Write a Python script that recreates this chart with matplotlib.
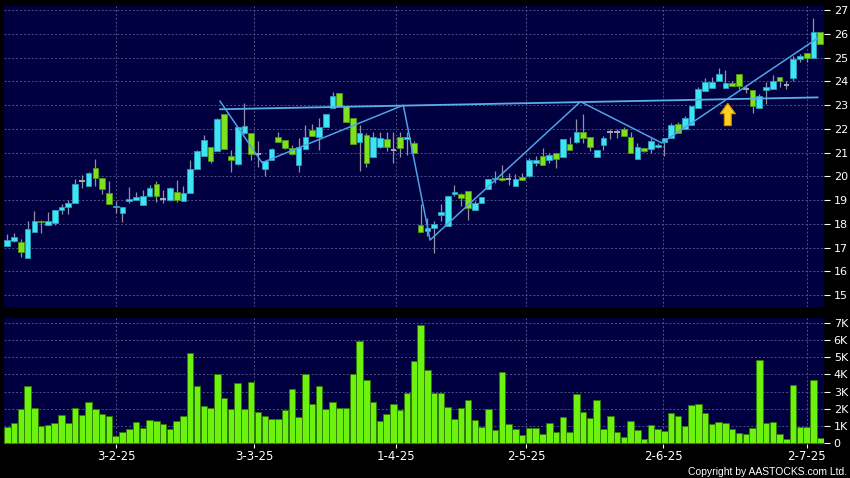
import matplotlib
matplotlib.use("Agg")
import matplotlib.pyplot as plt
import numpy as np

# ---------------- data ----------------
opens = [17.08, 17.30, 17.25, 16.55, 17.64, 18.14, 17.97, 18.05, 18.59, 18.70,
         18.87, 19.80, 19.58, 20.34, 19.92, 19.29, 18.72, 18.47, 18.95, 18.99,
         18.79, 19.17, 19.69, 19.04, 19.00, 19.35, 18.96, 19.31, 20.33, 20.87,
         21.22, 21.09, 22.62, 20.85, 20.54, 21.83, 21.81, 20.95, 20.33, 20.68,
         21.68, 21.54, 21.19, 20.48, 21.16, 21.96, 21.68, 22.10, 22.90, 23.50,
         22.98, 22.48, 21.44, 21.75, 20.83, 21.23, 21.58, 21.12, 21.68, 21.58,
         21.41, 17.97, 17.69, 17.83, 18.37, 17.93, 19.26, 19.28, 19.38, 18.58,
         18.89, 19.45, 19.88, 19.94, 19.90, 19.59, 19.98, 20.01, 20.57, 20.85,
         20.68, 20.99, 20.82, 21.36, 21.43, 21.89, 21.65, 20.82, 21.31, 21.89,
         21.89, 21.99, 21.65, 20.74, 21.19, 21.15, 21.26, 21.43, 21.61, 22.22,
         22.00, 22.17, 22.90, 23.62, 23.73, 24.04, 23.73, 23.93, 24.32, 23.70,
         23.65, 22.90, 23.66, 23.69, 24.21, 23.87, 24.15, 24.95, 25.19, 24.99,
         26.07]
highs = [17.56, 17.60, 17.35, 18.12, 18.54, 18.16, 18.49, 18.57, 18.82, 19.01,
         19.88, 20.06, 20.19, 20.73, 19.92, 19.81, 18.96, 18.73, 19.54, 19.33,
         19.42, 19.65, 19.81, 19.43, 19.55, 19.84, 19.59, 20.71, 21.10, 21.74,
         21.22, 22.45, 22.62, 21.10, 22.10, 23.10, 21.81, 21.50, 20.66, 21.19,
         21.89, 21.55, 21.33, 21.61, 22.17, 22.20, 22.45, 22.62, 23.57, 23.50,
         22.98, 22.48, 22.17, 21.82, 21.89, 21.86, 21.86, 21.89, 21.89, 21.88,
         21.48, 18.86, 18.26, 18.11, 18.86, 19.17, 19.66, 19.29, 19.38, 18.96,
         19.14, 19.90, 20.22, 20.50, 20.15, 20.12, 20.15, 20.78, 20.85, 21.20,
         20.99, 21.00, 21.58, 21.68, 22.42, 22.63, 21.65, 21.10, 21.71, 21.99,
         21.99, 22.10, 21.89, 21.40, 21.19, 21.61, 21.40, 21.61, 22.26, 22.30,
         22.55, 22.97, 23.75, 24.14, 24.18, 24.57, 24.50, 24.00, 24.32, 23.85,
         23.65, 23.48, 23.97, 24.28, 24.21, 24.04, 25.09, 25.16, 25.19, 26.66,
         26.07]
lows = [17.08, 17.24, 16.62, 16.55, 17.64, 17.60, 17.97, 17.97, 18.42, 18.40,
        18.87, 19.50, 19.58, 19.60, 19.24, 18.84, 18.46, 18.09, 18.87, 18.99,
        18.79, 19.15, 18.93, 18.87, 18.98, 18.93, 18.95, 19.31, 20.30, 20.85,
        20.57, 21.08, 21.15, 20.19, 20.50, 21.80, 20.68, 20.40, 20.01, 20.68,
        21.45, 21.16, 20.92, 20.17, 21.15, 21.70, 21.12, 22.10, 22.90, 22.98,
        22.28, 21.35, 20.23, 20.41, 20.80, 21.20, 21.07, 20.55, 20.83, 20.90,
        20.98, 17.66, 17.48, 16.78, 18.11, 17.93, 19.17, 18.75, 18.16, 18.58,
        18.89, 19.45, 19.73, 19.82, 19.66, 19.59, 19.86, 19.98, 20.43, 20.50,
        20.57, 20.36, 20.82, 21.10, 21.42, 21.40, 21.06, 20.82, 21.10, 21.57,
        21.60, 21.71, 20.99, 20.74, 21.01, 20.99, 21.19, 20.85, 21.60, 21.83,
        22.00, 22.17, 22.90, 23.62, 23.73, 24.00, 23.73, 23.79, 23.69, 23.50,
        22.68, 22.90, 23.06, 23.69, 23.76, 23.69, 24.04, 24.81, 24.84, 24.99,
        25.58]
closes = [17.32, 17.43, 16.80, 17.77, 18.11, 18.08, 18.11, 18.57, 18.70, 18.87,
          19.67, 19.80, 20.16, 19.92, 19.47, 18.84, 18.76, 18.73, 19.03, 19.12,
          19.17, 19.53, 19.17, 19.04, 19.53, 19.00, 19.31, 20.33, 21.09, 21.55,
          20.64, 22.44, 21.16, 20.68, 22.09, 22.12, 20.94, 20.95, 20.65, 21.17,
          21.47, 21.19, 20.93, 21.23, 21.68, 21.72, 22.10, 22.62, 23.40, 22.98,
          22.28, 21.35, 21.82, 20.55, 21.68, 21.63, 21.23, 21.12, 21.21, 21.65,
          20.99, 17.67, 17.83, 18.00, 18.51, 19.17, 19.35, 19.10, 18.68, 18.89,
          19.14, 19.90, 19.92, 19.83, 19.90, 19.91, 19.87, 20.71, 20.71, 20.50,
          20.89, 20.74, 21.58, 21.10, 21.86, 21.61, 21.24, 21.10, 21.61, 21.89,
          21.89, 21.71, 20.99, 21.22, 21.06, 21.50, 21.33, 21.61, 22.17, 21.83,
          22.45, 22.97, 23.69, 23.97, 23.97, 24.32, 23.93, 23.79, 23.79, 23.70,
          22.98, 23.38, 23.75, 24.04, 24.00, 23.87, 24.95, 25.06, 24.98, 26.07,
          25.58]
volumes_k = [0.93, 1.18, 1.97, 3.31, 2.05, 1.00, 1.04, 1.16, 1.64, 1.18,
             2.05, 1.62, 2.42, 1.97, 1.70, 1.57, 0.44, 0.66, 0.81, 1.22,
             0.91, 1.33, 1.30, 1.10, 0.85, 1.30, 1.59, 5.24, 3.31, 2.15,
             2.03, 4.04, 2.65, 1.97, 3.50, 1.97, 3.56, 1.82, 1.59, 1.43,
             1.41, 1.95, 3.15, 1.53, 4.02, 2.28, 3.31, 1.99, 2.40, 2.05,
             2.05, 4.00, 5.96, 3.69, 2.40, 1.32, 1.68, 2.26, 1.93, 2.94,
             4.80, 6.87, 4.24, 2.92, 2.92, 2.09, 1.39, 2.05, 2.51, 1.35,
             0.93, 1.99, 0.77, 4.12, 1.12, 0.83, 0.50, 0.89, 0.87, 0.54,
             1.18, 0.64, 1.55, 0.66, 2.88, 1.80, 1.49, 2.50, 0.83, 1.61,
             0.66, 0.37, 1.30, 0.75, 0.23, 1.08, 0.81, 0.70, 1.74, 1.59,
             1.03, 2.24, 2.28, 1.74, 1.10, 1.24, 1.18, 0.85, 0.58, 0.52,
             0.89, 4.82, 1.18, 1.26, 0.56, 0.25, 3.40, 0.93, 0.93, 3.66,
             0.29]

date_labels = ["3-2-25", "3-3-25", "1-4-25", "2-5-25", "2-6-25", "2-7-25"]
date_positions = [16.1, 36.4, 57.4, 76.6, 96.8, 118.0]

price_ticks = list(range(15, 28))
volume_ticks = list(range(0, 8))
volume_labels = ["0"] + [f"{v}K" for v in volume_ticks[1:]]

# trend lines (bar index, price)
resist_x = [31.4, 119.6]
resist_y = [22.83, 23.33]
zigzag_x = [31.4, 37.6, 58.45, 62.4, 84.6, 96.6, 119.6]
zigzag_y = [23.17, 20.58, 23.00, 17.32, 23.15, 21.41, 25.82]
arrow_x = 106.35
arrow_tip = 23.08
arrow_base = 22.14

# ---------------- style ----------------
NAVY = "#000040"
CYAN = "#3DE4F2"
CYAN_EDGE = "#2A9FC0"
GREEN = "#7FE11E"
GREEN_EDGE = "#4E9A12"
WICK = "#9090A0"
GRID = "#50508A"
VOL_FACE = "#6CF20E"
VOL_EDGE = "#2F7A00"
LINE = "#4DA3E6"

o = np.array(opens); h = np.array(highs); l = np.array(lows); c = np.array(closes)
v = np.array(volumes_k)
x = np.arange(len(o))

fig = plt.figure(figsize=(8.5, 4.78), dpi=100, facecolor="black")
W, H = 850.0, 478.0
ax = fig.add_axes([4 / W, 1 - 307 / H, 820 / W, 301 / H])
axv = fig.add_axes([4 / W, 1 - 444 / H, 820 / W, 126 / H])

for a in (ax, axv):
    a.set_facecolor(NAVY)
    for s in a.spines.values():
        s.set_visible(False)
    a.set_axisbelow(True)
    a.grid(True, color=GRID, linestyle=(0, (2, 2)), linewidth=0.7)
    a.set_xlim(-0.49, 120.55)
    a.set_xticks(date_positions)
    a.yaxis.tick_right()
    a.tick_params(axis="y", colors="white", labelcolor="white", labelsize=8,
                  length=4, width=0.8, pad=3, direction="out")

# candles
ax.vlines(x, l, h, color=WICK, linewidth=0.9, zorder=2)
up = c > o
dn = c < o
fl = c == o
bw = 0.84
ax.bar(x[up], np.maximum(c[up] - o[up], 0.04), bottom=o[up], width=bw,
       color=CYAN, edgecolor=CYAN_EDGE, linewidth=0.6, zorder=3)
ax.bar(x[dn], np.maximum(o[dn] - c[dn], 0.04), bottom=c[dn], width=bw,
       color=GREEN, edgecolor=GREEN_EDGE, linewidth=0.6, zorder=3)
ax.hlines(c[fl], x[fl] - bw / 2, x[fl] + bw / 2, color="#A8A8B4", linewidth=1.4, zorder=3)

# trend lines
ax.plot(resist_x, resist_y, color="#5AAFE8", linewidth=1.3, zorder=4)
ax.plot(zigzag_x, zigzag_y, color=LINE, linewidth=1.1, zorder=4)

# arrow
ax.annotate("", xy=(arrow_x, arrow_tip), xytext=(arrow_x, arrow_base),
            arrowprops=dict(arrowstyle="simple,head_length=0.75,head_width=1.1,tail_width=0.5",
                            mutation_scale=10, fc="#FFD21F", ec="#E08A00", lw=0.8,
                            shrinkA=0, shrinkB=0), zorder=5)

ax.set_ylim(14.5, 27.18)
ax.set_yticks(price_ticks)
ax.set_yticklabels([str(p) for p in price_ticks])
ax.tick_params(axis="x", length=0, labelbottom=False)

# volume
axv.bar(x, v, width=0.96, color=VOL_FACE, edgecolor=VOL_EDGE, linewidth=0.6, zorder=3)
axv.set_ylim(-0.04, 7.27)
axv.set_yticks(volume_ticks)
axv.set_yticklabels(volume_labels)
axv.set_xticklabels(date_labels)
axv.tick_params(axis="x", colors="white", labelcolor="white", labelsize=8.5,
                length=3, width=0.8, pad=1.5, direction="out")

fig.text(847 / W, 1 - 472 / H, "Copyright by AASTOCKS.com Ltd.", ha="right", va="center",
         color="white", fontsize=7.5, family="Liberation Sans")

fig.savefig("out.png", dpi=100, facecolor="black")
